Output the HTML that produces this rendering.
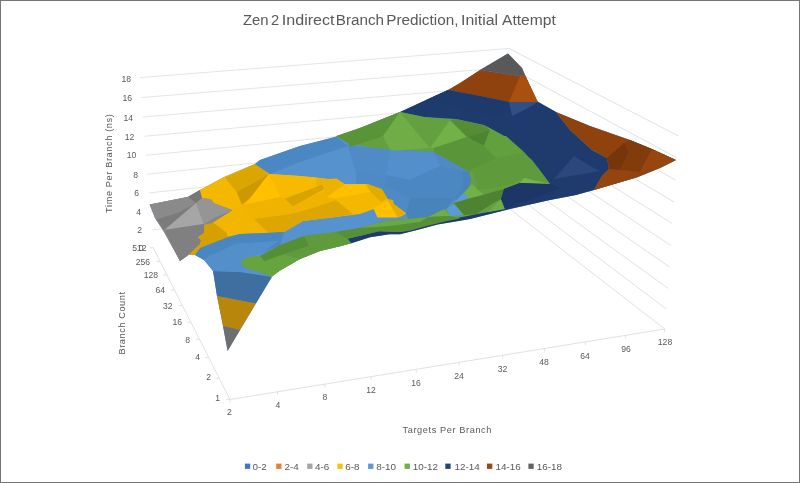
<!DOCTYPE html>
<html><head><meta charset="utf-8"><title>Zen 2 Indirect Branch Prediction</title>
<style>
html,body{margin:0;padding:0;background:#fff;}
body{width:800px;height:483px;overflow:hidden;position:relative;font-family:"Liberation Sans",sans-serif;}
#frame{position:absolute;left:0;top:0;width:798px;height:481px;border:1px solid #767676;}
svg{position:absolute;left:0;top:0;}
svg text{font-family:"Liberation Sans",sans-serif;fill:#595959;}
</style></head>
<body>
<svg width="800" height="483" viewBox="0 0 800 483">
<rect x="0" y="0" width="800" height="483" fill="#ffffff"/>
<g id="grid-surface">
<line x1="505" y1="205.3" x2="664.7" y2="329" stroke="#dedede" stroke-width="0.9"/>
<line x1="151.6" y1="230" x2="505.2" y2="187.3" stroke="#dedede" stroke-width="0.8"/>
<line x1="505.2" y1="187.3" x2="666.3" y2="309" stroke="#dedede" stroke-width="0.9"/>
<line x1="150.1" y1="211.5" x2="505.5" y2="170.6" stroke="#dedede" stroke-width="0.8"/>
<line x1="505.5" y1="170.6" x2="668" y2="288.4" stroke="#dedede" stroke-width="0.9"/>
<line x1="148.7" y1="193" x2="506" y2="153.8" stroke="#dedede" stroke-width="0.8"/>
<line x1="506" y1="153.8" x2="669.5" y2="267" stroke="#dedede" stroke-width="0.9"/>
<line x1="147.2" y1="174.2" x2="506.5" y2="136.8" stroke="#dedede" stroke-width="0.8"/>
<line x1="506.5" y1="136.8" x2="671" y2="245.5" stroke="#dedede" stroke-width="0.9"/>
<line x1="145.8" y1="155.3" x2="507" y2="120" stroke="#dedede" stroke-width="0.8"/>
<line x1="507" y1="120" x2="672.4" y2="223.6" stroke="#dedede" stroke-width="0.9"/>
<line x1="144.3" y1="136.3" x2="507.5" y2="103" stroke="#dedede" stroke-width="0.8"/>
<line x1="507.5" y1="103" x2="674" y2="202" stroke="#dedede" stroke-width="0.9"/>
<line x1="142.9" y1="117" x2="508" y2="85.7" stroke="#dedede" stroke-width="0.8"/>
<line x1="508" y1="85.7" x2="675.5" y2="180" stroke="#dedede" stroke-width="0.9"/>
<line x1="141.4" y1="97.6" x2="508.5" y2="67.3" stroke="#dedede" stroke-width="0.8"/>
<line x1="508.5" y1="67.3" x2="677" y2="157.8" stroke="#dedede" stroke-width="0.9"/>
<line x1="140" y1="77.6" x2="509" y2="48.5" stroke="#dedede" stroke-width="0.8"/>
<line x1="509" y1="48.5" x2="678.5" y2="136" stroke="#dedede" stroke-width="0.9"/>
<polygon points="149.6,204.4 188,197 200,190 224,177 255,164 260,160 300,146 336,136.4 360,128 380,120 400,112 426,100 448,90 460,83 480,70 508,53.6 522,68 525,75 537,101 556,112 590,126 630,140 652,149 676,160 660,168 638,177 594,190 576,195 550,200 510,209 470,219 460,220.75 437.5,224.5 418,229.75 400,234.25 389.5,234.25 370,237.25 351.25,243.25 340,246.25 320,251 300,259 280,270.5 271,277 256,303 240,330 227.6,351 223,326 217,296 213,271 204,260 195,255 189,254.4 180,261 164,232 155,218" fill="#5592ce" />
<polygon points="149.6,204.4 188,197 200,190 202,197 211,199 214,203 233,210 213,223 204,225 204,233 198,237 201,240 200,244 189,254.4 180,261 164,232 155,218" fill="#8c8c8c" />
<polygon points="200,190 224,177 255,164 270,174 300,176 328,179 344,184 368,184 382,189 388,199 393,200 394,204 407,213 400,217 378,217 374,209 360,214 336,217 303,221 284,232 264,233 240,234 228,237 200,248 195,255 189,254.4 200,244 201,240 198,237 204,233 204,225 213,223 233,210 214,203 211,199 202,197" fill="#f5b800" />
<polygon points="336,136.4 360,128 380,120 400,112 424,117 456,119 484,125 504,136 520,150 532,160 550,184 520,183 504,189 501,199 505,209 480,213.6 460,218.5 445,221.5 424,226.75 410.5,230.5 400,232 379,231.25 347.5,238.75 351.25,243.25 340,246.25 320,251 300,259 280,270.5 272,276.5 246,268 240,262 248,257 260,256 280,245 304,236 336,232 360,228 384,221 408,219 428,217 448,208 456,200 468,188 471,180 469,172 450,161 434,152 420,151 400,150.5 372,148 348,143" fill="#64a03f" />
<polygon points="456,200 464,193 469,198 454,203" fill="#5b9bd5" />
<polygon points="446,208 454,204 464,215 450,216" fill="#5b9bd5" />
<polygon points="400,112 426,100 448,90 480,96 509,102 538,102 556,112 570,130 592,150 607,158 609,169 602,176 594,190 576,195 550,200 510,209 505,209 501,199 504,189 520,183 550,184 532,160 520,150 504,136 484,125 456,119 424,117" fill="#1f3b6d" />
<polygon points="347.5,238.75 379,231.25 400,232 410.5,230 424,226 445,220.5 460,217.5 480,213.6 505,209 510,209 470,219 460,220.75 437.5,224.5 418,229.75 400,234.25 389.5,234.25 370,237.25 351.25,243.25" fill="#1f3a6b" />
<polygon points="448,90 460,83 480,70 520,76 525,75 537,101 538,102 509,102 480,96" fill="#8f420d" />
<polygon points="520,76 525,75 538,102 509,102" fill="#a9500f" />
<polygon points="556,112 590,126 630,140 652,149 676,160 660,168 638,177 594,190 602,176 609,169 607,158 592,150 570,130" fill="#8f420d" />
<polygon points="480,70 508,53.6 522,68 525,75 520,76" fill="#595959" />
<polygon points="213,271 240,272 272,277 256,303.6 217,296" fill="#3f6fa1" />
<polygon points="217,296 256,303.6 240,330 223,326" fill="#b8860b" />
<polygon points="223,326 240,330 227.6,351" fill="#6f6f6f" />
<polygon points="150,204.6 188,196.7 196,203 179,212.6 164.4,230 156.4,219.6" fill="#8a8a8a" />
<polygon points="156.4,219.6 179,212.6 196,203 164.4,230" fill="#7b7b7b" />
<polygon points="188,196.7 200,190 202,197 203,197.6 196,203" fill="#767676" />
<polygon points="196,203 204,224 164.4,230" fill="#a6a6a6" />
<polygon points="196,203 203,197.6 211,199 214,203 233,210 213,222.5 204,224" fill="#959595" />
<polygon points="233,210 213,223 204,225 204,224 216,217" fill="#868686" />
<polygon points="164.4,230 204,224 204,233 198,237 201,240 200,244 189,254.4 180,261" fill="#808080" />
<polygon points="202,198 200,190 224.9,177.5 236.7,192 241.8,204.7 235,209 233,210 214,203 211,199" fill="#f5b800" />
<polygon points="224.9,177.5 255,164 269,174 236.7,192" fill="#dca600" />
<polygon points="236.7,192 269,174 250.3,198 241.8,204.7" fill="#cc9a00" />
<polygon points="269,174 280.9,197 245.2,204.7 250.3,198" fill="#ffc000" />
<polygon points="269,174 300,176 316,177.5 316,187 284.3,198.7 280.9,197" fill="#f7ba00" />
<polygon points="284.3,198.7 316,187 322,184 326,188 292.8,206.4" fill="#d9a300" />
<polygon points="241.8,205.5 245.2,204.7 280.9,197 284.3,198.7 292.8,206.4 326,190 336,200 316,207 291,214 253.7,219" fill="#f0b400" />
<polygon points="253.7,219 291,214 316,207 336,200 353,214 336,217 303,221 284,232 267.3,231.8 264,229" fill="#dda600" />
<polygon points="213,222.5 233,210 241.8,205.5 253.7,219 264,229 267.3,231.8 264,233 240,234 226.6,232.7 218,226" fill="#f2b600" />
<polygon points="204,225 213,222.5 218,226 226.6,232.7 228,237 200,248 195,255 189,254.4 200,244 201,240 198,237 204,233" fill="#d6a100" />
<polygon points="316,177.5 328,179 336.7,178.4 345.2,184.3 326.6,197 322,184 316,187" fill="#edb200" />
<polygon points="345.2,184.3 365.6,184.3 370.7,192 335,198.7 326.6,197" fill="#ffc000" />
<polygon points="365.6,184.3 380.9,186 388.5,197.9 380.9,202 370.7,192" fill="#e2ab00" />
<polygon points="326.6,197 335,198.7 370.7,192 380.9,202 373.2,208.1 353.7,214 336,200" fill="#f5b800" />
<polygon points="373.2,208.1 387.7,200.4 397.9,217.4 377.5,217.4" fill="#ffc000" />
<polygon points="387.7,200.4 388.5,197.9 393.6,198.7 394.5,203 406.4,212.3 397.9,217.4" fill="#e5ac00" />
<polygon points="255,164 260,160 300,146 336,137 348,146 300,162 270,174" fill="#4b87c2" />
<polygon points="348,146 372,148 400,150.5 420,151 434,152 450,161 469,172 471,180 468,188 456,200 448,208 428,217 408,219 406,213 394,204 393,200 388,199 382,189 368,184 356,184 356,172" fill="#4e8bc6" />
<polygon points="348,146 372,148 390,150 386,176 356,172" fill="#4f8cc7" />
<polygon points="390,150 420,151 434,152 440,166 410,180 386,176" fill="#5390cb" />
<polygon points="387,175 410,180 398,191 385,187" fill="#4b87c1" />
<polygon points="410,198 454,198 445,210 428,217 408,219 406,213.5" fill="#4883bc" />
<polygon points="462.5,171.5 469,172 471,180 468,188 456,200 454,198 461,190 463,182" fill="#4883bc" />
<polygon points="410,180 440,166 462.5,171.5 463,182 461,190 454,198 410,198 398,191" fill="#4b87c2" />
<polygon points="195,255 200,248 228,237 240,234 264,233 284,232 280,245 262,252.5 278.6,241 236,244 208,257 204,260" fill="#4a87c1" />
<polygon points="208,257 236,244 278.6,241 262,252.5 248,257 240,262 246,268 240,272 213,271 204,260" fill="#5390cb" />
<polygon points="336,136 360,128 380,120 400,112 383,136 350,147 348,143" fill="#5a9439" />
<polygon points="400,112 430,148 400,150.5 390,150 383,136" fill="#70ad47" />
<polygon points="400,112 424,117 450,120 430,148" fill="#64a03f" />
<polygon points="450,120 467,137 434,148 430,148" fill="#72b048" />
<polygon points="450,120 456,119 486,126 490,130 467,137" fill="#558c35" />
<polygon points="467,137 490,130 484,146" fill="#4e8331" />
<polygon points="490,130 486,126 504,136 506,136 524,152 496,158 484,146" fill="#62a03e" />
<polygon points="434,148 467,137 484,146 496,158 472,170 469,172 450,161 434,152" fill="#5b953a" />
<polygon points="496,158 524,152 538,168 550,184 524,178 506,186 478,190 472,170" fill="#5f9b3c" />
<polygon points="524,178 550,184 520,183" fill="#78b64c" />
<polygon points="478,190 472,184 464,193 469,198 486,196" fill="#72b048" />
<polygon points="454,203 500,190 504,189 501,199 492,204 476,214 464,215" fill="#4e8331" />
<polygon points="501,199 505,209 488,212" fill="#70ad47" />
<polygon points="428,217 444,209 450,216" fill="#70ad47" />
<polygon points="240,262 248,257 260,256 264.5,261 283,254 300,259 280,270.5 272,276.5 246,268" fill="#66a440" />
<polygon points="260,256 280,245 304,236 309.6,245.5 264.5,261" fill="#558e36" />
<polygon points="264.5,261 309.6,245.5 304,236 336,232 347.5,238.75 351.25,243.25 340,246.25 320,251 300,259 283,254" fill="#5f9b3c" />
<polygon points="336,232 360,228 384,221 408,219 428,217 450,216 460,218.5 445,221.5 424,226.75 410.5,230.5 400,232 379,231.25 347.5,238.75" fill="#568f36" />
<polygon points="360,228 384,221 408,219 428,217 420,222 390,226" fill="#6aa843" />
<polygon points="574,156 590,166 600,171 554,179" fill="#2a487c" />
<polygon points="426,100 448,90 480,96 509,102 500,118 470,110" fill="#1e3a6c" />
<polygon points="509,102 538,102 528,108 512,116" fill="#2f4f86" />
<polygon points="520,183 550,184 560,188 505,209 501,199 504,189" fill="#1c3766" />
<polygon points="607,158 624,143 629,152 620,170 609,169" fill="#76350a" />
<polygon points="624,143 630,140 652,149 640,172 620,170 629,152" fill="#823c0c" />
<polygon points="652,149 676,160 660,168 640,172" fill="#96460e" />
<polygon points="609,169 640,172 638,177 594,190 602,176" fill="#934410" />
</g>
<g id="axes">
<polyline points="153,247.5 230,399.5 664.7,329" fill="none" stroke="#d9d9d9" stroke-width="0.8"/>
<line x1="153.2" y1="247.8" x2="149.6" y2="247.8" stroke="#d9d9d9" stroke-width="0.8"/>
<line x1="160.1" y1="261.6" x2="156.5" y2="261.6" stroke="#d9d9d9" stroke-width="0.8"/>
<line x1="166.9" y1="275" x2="163.3" y2="275" stroke="#d9d9d9" stroke-width="0.8"/>
<line x1="174.5" y1="290" x2="170.9" y2="290" stroke="#d9d9d9" stroke-width="0.8"/>
<line x1="182.4" y1="305.6" x2="178.8" y2="305.6" stroke="#d9d9d9" stroke-width="0.8"/>
<line x1="190.9" y1="322.3" x2="187.3" y2="322.3" stroke="#d9d9d9" stroke-width="0.8"/>
<line x1="199.5" y1="339.2" x2="195.9" y2="339.2" stroke="#d9d9d9" stroke-width="0.8"/>
<line x1="208.8" y1="357.6" x2="205.2" y2="357.6" stroke="#d9d9d9" stroke-width="0.8"/>
<line x1="219.2" y1="378.2" x2="215.6" y2="378.2" stroke="#d9d9d9" stroke-width="0.8"/>
<line x1="229.9" y1="399.3" x2="226.3" y2="399.3" stroke="#d9d9d9" stroke-width="0.8"/>
<line x1="230" y1="399.5" x2="230.2" y2="402.7" stroke="#d9d9d9" stroke-width="0.8"/>
<line x1="277.5" y1="391.8" x2="277.7" y2="395.0" stroke="#d9d9d9" stroke-width="0.8"/>
<line x1="325" y1="384.1" x2="325.2" y2="387.3" stroke="#d9d9d9" stroke-width="0.8"/>
<line x1="371" y1="376.6" x2="371.2" y2="379.8" stroke="#d9d9d9" stroke-width="0.8"/>
<line x1="416" y1="369.3" x2="416.2" y2="372.5" stroke="#d9d9d9" stroke-width="0.8"/>
<line x1="459" y1="362.4" x2="459.2" y2="365.6" stroke="#d9d9d9" stroke-width="0.8"/>
<line x1="502.6" y1="355.3" x2="502.8" y2="358.5" stroke="#d9d9d9" stroke-width="0.8"/>
<line x1="544.6" y1="348.5" x2="544.8000000000001" y2="351.7" stroke="#d9d9d9" stroke-width="0.8"/>
<line x1="585.3" y1="341.9" x2="585.5" y2="345.1" stroke="#d9d9d9" stroke-width="0.8"/>
<line x1="625.2" y1="335.4" x2="625.4000000000001" y2="338.6" stroke="#d9d9d9" stroke-width="0.8"/>
<line x1="664.5" y1="329.0" x2="664.7" y2="332.2" stroke="#d9d9d9" stroke-width="0.8"/>
</g>
</svg>
<svg id="txt" width="800" height="483" viewBox="0 0 800 483" style="will-change:transform;opacity:0.999">
<g id="axes-text">
<text x="131" y="81.5" font-size="8.6" text-anchor="end" >18</text>
<text x="132" y="100.69999999999999" font-size="8.6" text-anchor="end" >16</text>
<text x="133" y="120.69999999999999" font-size="8.6" text-anchor="end" >14</text>
<text x="134.4" y="139.7" font-size="8.6" text-anchor="end" >12</text>
<text x="136.4" y="158.1" font-size="8.6" text-anchor="end" >10</text>
<text x="138" y="177.7" font-size="8.6" text-anchor="end" >8</text>
<text x="139" y="196.1" font-size="8.6" text-anchor="end" >6</text>
<text x="141" y="214.5" font-size="8.6" text-anchor="end" >4</text>
<text x="142" y="233.1" font-size="8.6" text-anchor="end" >2</text>
<text x="146.5" y="251.1" font-size="8.6" text-anchor="end" >512</text>
<text x="143.5" y="251.1" font-size="8.6" text-anchor="end" >0</text>
<text x="150" y="264.70000000000005" font-size="8.6" text-anchor="end" >256</text>
<text x="158" y="278.1" font-size="8.6" text-anchor="end" >128</text>
<text x="165" y="293.1" font-size="8.6" text-anchor="end" >64</text>
<text x="172.5" y="308.70000000000005" font-size="8.6" text-anchor="end" >32</text>
<text x="182" y="324.6" font-size="8.6" text-anchor="end" >16</text>
<text x="190" y="342.6" font-size="8.6" text-anchor="end" >8</text>
<text x="200" y="360.1" font-size="8.6" text-anchor="end" >4</text>
<text x="211" y="380.1" font-size="8.6" text-anchor="end" >2</text>
<text x="220" y="401.1" font-size="8.6" text-anchor="end" >1</text>
<text x="229.5" y="415.1" font-size="8.6" text-anchor="middle" >2</text>
<text x="278" y="407.6" font-size="8.6" text-anchor="middle" >4</text>
<text x="325" y="399.6" font-size="8.6" text-anchor="middle" >8</text>
<text x="371" y="392.6" font-size="8.6" text-anchor="middle" >12</text>
<text x="416" y="385.6" font-size="8.6" text-anchor="middle" >16</text>
<text x="459" y="378.6" font-size="8.6" text-anchor="middle" >24</text>
<text x="502.5" y="372.1" font-size="8.6" text-anchor="middle" >32</text>
<text x="544" y="365.1" font-size="8.6" text-anchor="middle" >48</text>
<text x="585" y="358.6" font-size="8.6" text-anchor="middle" >64</text>
<text x="626" y="351.6" font-size="8.6" text-anchor="middle" >96</text>
<text x="665" y="345.1" font-size="8.6" text-anchor="middle" >128</text>
</g>
<g id="title" font-size="14"><text x="243.00" y="25" textLength="25.60" lengthAdjust="spacingAndGlyphs">Zen</text><text x="271.00" y="25" textLength="8.20" lengthAdjust="spacingAndGlyphs">2</text><text x="281.80" y="25" textLength="52.80" lengthAdjust="spacingAndGlyphs">Indirect</text><text x="335.80" y="25" textLength="48.20" lengthAdjust="spacingAndGlyphs">Branch</text><text x="386.20" y="25" textLength="72.20" lengthAdjust="spacingAndGlyphs">Prediction,</text><text x="461.00" y="25" textLength="37.00" lengthAdjust="spacingAndGlyphs">Initial</text><text x="502.00" y="25" textLength="53.90" lengthAdjust="spacingAndGlyphs">Attempt</text></g>
<text x="447.3" y="432.7" font-size="9.2" text-anchor="middle" letter-spacing="0.6">Targets Per Branch</text>
<text transform="translate(112.1,163.2) rotate(-90)" font-size="9.2" text-anchor="middle" letter-spacing="0.62">Time Per Branch (ns)</text>
<text transform="translate(125,323) rotate(-90)" font-size="9.2" text-anchor="middle" letter-spacing="0.58">Branch Count</text>
<g id="legend">
<rect x="244.9" y="463.6" width="5.3" height="5.3" fill="#4472c4"/>
<text x="252.4" y="469.7" font-size="9.9" text-anchor="start" >0-2</text>
<rect x="276.2" y="463.6" width="5.3" height="5.3" fill="#ed7d31"/>
<text x="284.6" y="469.7" font-size="9.9" text-anchor="start" >2-4</text>
<rect x="307.2" y="463.6" width="5.3" height="5.3" fill="#a5a5a5"/>
<text x="314.9" y="469.7" font-size="9.9" text-anchor="start" >4-6</text>
<rect x="337.4" y="463.6" width="5.3" height="5.3" fill="#ffc000"/>
<text x="345.3" y="469.7" font-size="9.9" text-anchor="start" >6-8</text>
<rect x="368.1" y="463.6" width="5.3" height="5.3" fill="#5b9bd5"/>
<text x="376.2" y="469.7" font-size="9.9" text-anchor="start" >8-10</text>
<rect x="404.6" y="463.6" width="5.3" height="5.3" fill="#70ad47"/>
<text x="412.8" y="469.7" font-size="9.9" text-anchor="start" >10-12</text>
<rect x="445.3" y="463.6" width="5.3" height="5.3" fill="#264478"/>
<text x="454.5" y="469.7" font-size="9.9" text-anchor="start" >12-14</text>
<rect x="487" y="463.6" width="5.3" height="5.3" fill="#9e480e"/>
<text x="495.4" y="469.7" font-size="9.9" text-anchor="start" >14-16</text>
<rect x="528.4" y="463.6" width="5.3" height="5.3" fill="#636363"/>
<text x="536.7" y="469.7" font-size="9.9" text-anchor="start" >16-18</text>
</g>
</svg>
<div id="frame"></div>
</body></html>
